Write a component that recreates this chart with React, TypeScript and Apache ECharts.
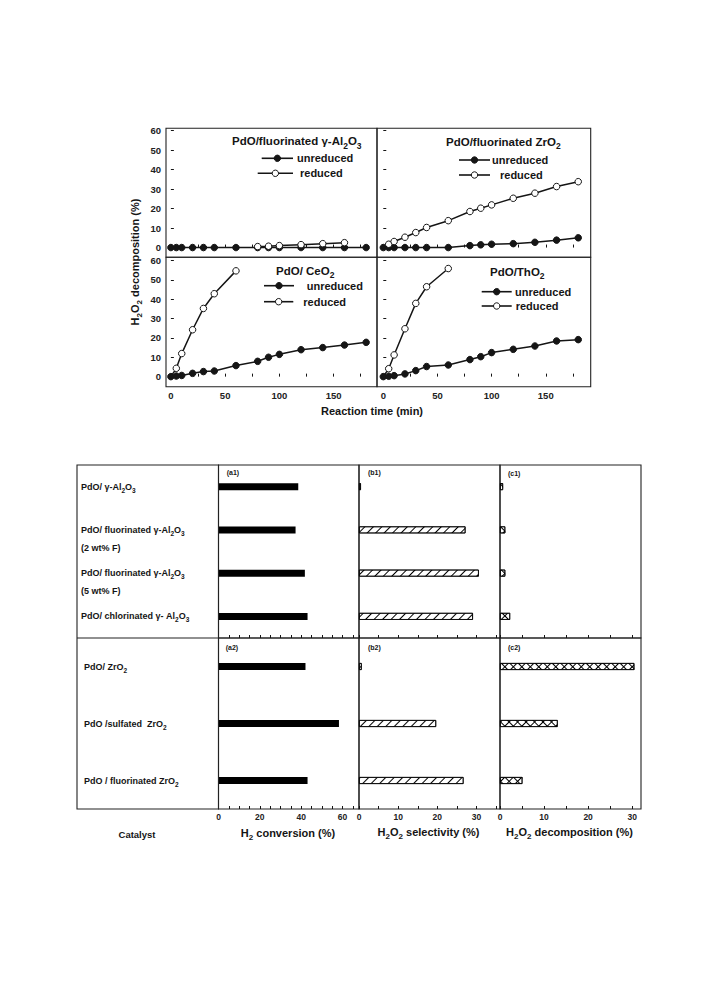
import React, { useEffect, useRef } from "react";
import * as echarts from "echarts";

const FONT = '"Liberation Sans", Arial, Helvetica, sans-serif';
const INK = "#151515";

// ---------- top figure data (H2O2 decomposition vs time) ----------
const TIME = [0, 5, 10, 20, 30, 40, 60, 80, 90, 100, 120, 140, 160, 180];
const AL_UNRED = [0, 0, 0, 0, 0, 0, 0, 0, 0, 0, 0, 0, 0, 0];
const AL_RED_T = [80, 90, 100, 120, 140, 160];
const AL_RED = [0.5, 0.7, 1.0, 1.5, 2.0, 2.5];
const ZR_UNRED = [0, 0, 0, 0, 0, 0, 0, 1.0, 1.4, 1.7, 2.0, 2.7, 3.8, 5.0];
const ZR_RED = [0, 1.7, 3.1, 5.3, 7.7, 10.3, 13.8, 18.5, 20.2, 21.9, 25.3, 27.9, 31.3, 33.8];
const CE_UNRED = [0, 0.3, 0.6, 1.7, 2.6, 2.9, 5.7, 7.9, 10.0, 11.5, 13.9, 15.0, 16.3, 17.7];
const CE_RED_T = [0, 5, 10, 20, 30, 40, 60];
const CE_RED = [0, 4.3, 11.9, 24.2, 35.2, 42.8, 54.6];
const TH_UNRED = [0, 0.2, 0.5, 1.4, 3.1, 5.2, 6.0, 8.8, 10.3, 12.4, 14.1, 15.8, 18.4, 19.1];
const TH_RED_T = [0, 5, 10, 20, 30, 40, 60];
const TH_RED = [0, 4.1, 11.2, 24.7, 37.8, 46.4, 55.8];

const TIME_LABELS = [0, 50, 100, 150];
const TIME_TICKS = [0, 25, 50, 75, 100, 125, 150, 175];
const PCT_LABELS = [0, 10, 20, 30, 40, 50, 60];

// ---------- bottom figure data ----------
const CATS1 = [
  "PdO/ γ-Al2O3",
  "PdO/ fluorinated γ-Al2O3\n(2 wt% F)",
  "PdO/ fluorinated γ-Al2O3\n(5 wt% F)",
  "PdO/ chlorinated γ- Al2O3",
];
const CATS2 = ["PdO/ ZrO2", "PdO /sulfated  ZrO2", "PdO / fluorinated ZrO2"];
const CONV1 = [38.6, 37.3, 41.8, 43.1];
const CONV2 = [42.1, 58.3, 43.1];
const SEL1 = [0.5, 27.2, 30.6, 29.1];
const SEL2 = [0.7, 19.7, 26.7];
const DEC1 = [0.7, 1.2, 1.2, 2.3];
const DEC2 = [30.5, 13.1, 5.1];

const CONV_LABELS = [0, 20, 40, 60];
const CONV_TICKS = [0, 5, 10, 15, 20, 25, 30, 35, 40, 45, 50, 55, 60, 65];
const SEL_LABELS = [0, 10, 20, 30];
const SEL_TICKS = [0, 5, 10, 15, 20, 25, 30, 35];
const DEC_LABELS = [0, 10, 20, 30];
const DEC_TICKS = [0, 5, 10, 15, 20, 25, 30];

// rich-text: digits right after letters become subscripts
function richLine(line: string, base = "t", sub = "s"): string {
  let out = "";
  let buf = "";
  for (let i = 0; i < line.length; i++) {
    const c = line[i];
    const prev = i > 0 ? line[i - 1] : "";
    if (/\d/.test(c) && /[A-Za-z]/.test(prev)) {
      if (buf) out += `{${base}|${buf}}`;
      buf = "";
      out += `{${sub}|${c}}`;
    } else buf += c;
  }
  if (buf) out += `{${base}|${buf}}`;
  return out;
}

function catLabel(v: string): string {
  const lines = v.split("\n");
  if (lines.length > 1) return "{t| }\n" + lines.map((l) => richLine(l)).join("\n");
  return richLine(v);
}

function gText(
  x: number,
  y: number,
  txt: string,
  size: number,
  subSize: number,
  align = "left",
  rotation = 0,
  subs = true
) {
  return {
    type: "text",
    x,
    y,
    rotation,
    z: 50,
    style: {
      text: subs ? richLine(txt) : `{t|${txt}}`,
      align,
      verticalAlign: "middle",
      fill: INK,
      font: `bold ${size}px ${FONT}`,
      rich: {
        t: { font: `bold ${size}px ${FONT}`, fill: INK },
        s: { font: `bold ${subSize}px ${FONT}`, fill: INK, padding: [Math.round(size * 0.75), 0, 0, 0] },
      },
    },
  };
}

function legendEntry(x1: number, x2: number, y: number, filled: boolean, label: string, tx: number) {
  return [
    { type: "line", z: 50, shape: { x1, y1: y, x2, y2: y }, style: { stroke: INK, lineWidth: 1.6 } },
    {
      type: "circle",
      z: 51,
      shape: { cx: (x1 + x2) / 2, cy: y, r: 3.2 },
      style: { fill: filled ? INK : "#fff", stroke: INK, lineWidth: 1 },
    },
    {
      type: "text",
      z: 50,
      x: tx,
      y,
      style: { text: label, align: "left", verticalAlign: "middle", fill: INK, font: `bold 11px ${FONT}` },
    },
  ];
}

function lineSeries(idx: number, times: number[], vals: number[], filled: boolean, hideFirst: boolean) {
  return {
    type: "line",
    xAxisIndex: idx,
    yAxisIndex: idx,
    data: times.map((t, i) => (hideFirst && i === 0 ? { value: [t, vals[i]], symbol: "none" } : [t, vals[i]])),
    symbol: "circle",
    symbolSize: 6.5,
    lineStyle: { color: INK, width: 1.5 },
    itemStyle: { color: filled ? INK : "#fff", borderColor: INK, borderWidth: 1 },
    emphasis: { disabled: true },
    silent: true,
  };
}

function timeAxis(gi: number, showLabel: boolean, min: number, max: number) {
  return {
    type: "value",
    gridIndex: gi,
    min,
    max,
    axisLine: { show: false },
    axisTick: { show: true, inside: true, length: 3, customValues: TIME_TICKS, lineStyle: { color: INK } },
    axisLabel: {
      show: showLabel,
      customValues: TIME_LABELS,
      margin: 4,
      fontSize: 9.5,
      fontWeight: "bold",
      fontFamily: FONT,
      color: "#222",
    },
    splitLine: { show: false },
  };
}

function pctAxis(gi: number, showLabel: boolean, min: number, max: number) {
  return {
    type: "value",
    gridIndex: gi,
    min,
    max,
    axisLine: { show: false },
    axisTick: { show: true, inside: true, length: 3, customValues: PCT_LABELS, lineStyle: { color: INK } },
    axisLabel: {
      show: showLabel,
      customValues: PCT_LABELS,
      margin: 5,
      fontSize: 9.5,
      fontWeight: "bold",
      fontFamily: FONT,
      color: "#222",
    },
    splitLine: { show: false },
  };
}

function valAxis(gi: number, max: number, ticks: number[], labels: number[], showLabel: boolean) {
  return {
    type: "value",
    gridIndex: gi,
    min: 0,
    max,
    axisLine: { show: false },
    axisTick: { show: true, inside: true, length: 3, customValues: ticks, lineStyle: { color: INK } },
    axisLabel: {
      show: showLabel,
      customValues: labels,
      margin: 3,
      fontSize: 8.5,
      fontWeight: "bold",
      fontFamily: FONT,
      color: "#222",
    },
    splitLine: { show: false },
  };
}

function catAxis(gi: number, cats: string[], showLabel: boolean, margin: number) {
  return {
    type: "category",
    gridIndex: gi,
    data: cats,
    inverse: true,
    axisLine: { show: false },
    axisTick: { show: false },
    axisLabel: {
      show: showLabel,
      interval: 0,
      margin,
      align: "left",
      formatter: (v: string) => catLabel(v),
      rich: {
        t: { fontSize: 9, fontWeight: "bold", fontFamily: FONT, color: INK, lineHeight: 18 },
        s: { fontSize: 6.5, fontWeight: "bold", fontFamily: FONT, color: INK, padding: [7, 0, 0, 0] },
      },
    },
    splitLine: { show: false },
  };
}

const SLASH = {
  symbol: "rect",
  symbolSize: 1,
  dashArrayX: [1, 0],
  dashArrayY: [1, 5],
  rotation: -Math.PI / 4,
  color: "#000",
};
const BACKSLASH = { ...SLASH, rotation: Math.PI / 4 };

function hatchBar(idx: number, data: number[], decal: any, fill: string, border: number) {
  return {
    type: "bar",
    xAxisIndex: idx,
    yAxisIndex: idx,
    data,
    barWidth: 7,
    barGap: "-100%",
    silent: true,
    itemStyle: { color: fill, borderColor: "#000", borderWidth: border, decal },
  };
}

export default function App() {
  const ref = useRef<HTMLDivElement>(null);
  useEffect(() => {
    if (!ref.current) return;
    const chart = echarts.init(ref.current, null, { renderer: "svg" });
    const gridBase = { show: true, borderColor: "#222", borderWidth: 1.1, backgroundColor: "transparent", containLabel: false };
    const option: any = {
      animation: false,
      backgroundColor: "#fff",
      textStyle: { fontFamily: FONT },
      grid: [
        { ...gridBase, left: 166, top: 128.3, width: 211, height: 129 },
        { ...gridBase, left: 377, top: 128.3, width: 213.7, height: 129 },
        { ...gridBase, left: 166, top: 257.3, width: 211, height: 129.4 },
        { ...gridBase, left: 377, top: 257.3, width: 213.7, height: 129.4 },
        { ...gridBase, left: 218.5, top: 465, width: 140.5, height: 173 },
        { ...gridBase, left: 359, top: 465, width: 141, height: 173 },
        { ...gridBase, left: 500, top: 465, width: 141, height: 173 },
        { ...gridBase, left: 218.5, top: 638, width: 140.5, height: 171 },
        { ...gridBase, left: 359, top: 638, width: 141, height: 171 },
        { ...gridBase, left: 500, top: 638, width: 141, height: 171 },
      ],
      xAxis: [
        timeAxis(0, false, -4.5, 190),
        timeAxis(1, false, -5.8, 191.5),
        timeAxis(2, true, -4.5, 190),
        timeAxis(3, true, -5.8, 191.5),
        valAxis(4, 68, CONV_TICKS, CONV_LABELS, false),
        valAxis(5, 36, SEL_TICKS, SEL_LABELS, false),
        valAxis(6, 32, DEC_TICKS, DEC_LABELS, false),
        valAxis(7, 68, CONV_TICKS, CONV_LABELS, true),
        valAxis(8, 36, SEL_TICKS, SEL_LABELS, true),
        valAxis(9, 32, DEC_TICKS, DEC_LABELS, true),
      ],
      yAxis: [
        pctAxis(0, true, -5, 61.2),
        pctAxis(1, false, -5, 61.2),
        pctAxis(2, true, -5.2, 61.6),
        pctAxis(3, false, -5.2, 61.6),
        catAxis(4, CATS1, true, 137.5),
        catAxis(5, CATS1, false, 8),
        catAxis(6, CATS1, false, 8),
        catAxis(7, CATS2, true, 134.5),
        catAxis(8, CATS2, false, 8),
        catAxis(9, CATS2, false, 8),
      ],
      series: [
        lineSeries(0, TIME, AL_UNRED, true, false),
        lineSeries(0, AL_RED_T, AL_RED, false, false),
        lineSeries(1, TIME, ZR_UNRED, true, false),
        lineSeries(1, TIME, ZR_RED, false, true),
        lineSeries(2, TIME, CE_UNRED, true, false),
        lineSeries(2, CE_RED_T, CE_RED, false, true),
        lineSeries(3, TIME, TH_UNRED, true, false),
        lineSeries(3, TH_RED_T, TH_RED, false, true),
        { type: "bar", xAxisIndex: 4, yAxisIndex: 4, data: CONV1, barWidth: 7, silent: true, itemStyle: { color: "#000" } },
        { type: "bar", xAxisIndex: 7, yAxisIndex: 7, data: CONV2, barWidth: 7, silent: true, itemStyle: { color: "#000" } },
        hatchBar(5, SEL1, SLASH, "#fff", 0.8),
        hatchBar(8, SEL2, SLASH, "#fff", 0.8),
        hatchBar(6, DEC1, SLASH, "#fff", 0.8),
        hatchBar(6, DEC1, BACKSLASH, "rgba(0,0,0,0)", 0),
        hatchBar(9, DEC2, SLASH, "#fff", 0.8),
        hatchBar(9, DEC2, BACKSLASH, "rgba(0,0,0,0)", 0),
      ],
      graphic: [
        // top figure: panel titles and legends
        gText(232, 141, "PdO/fluorinated γ-Al2O3", 11.5, 8.5),
        ...legendEntry(261.7, 293, 158.3, true, "unreduced", 297),
        ...legendEntry(257.7, 293, 173.3, false, "reduced", 300),
        gText(446, 141.7, "PdO/fluorinated ZrO2", 11.5, 8.5),
        ...legendEntry(459, 490, 160, true, "unreduced", 492),
        ...legendEntry(459, 490, 175, false, "reduced", 500),
        gText(276, 270.7, "PdO/ CeO2", 11.5, 8.5),
        ...legendEntry(264, 294, 285.7, true, "unreduced", 306.7),
        ...legendEntry(264, 293.3, 301.7, false, "reduced", 303.3),
        gText(490, 271.7, "PdO/ThO2", 11.5, 8.5),
        ...legendEntry(481.7, 511.7, 291.7, true, "unreduced", 515),
        ...legendEntry(481.7, 511.7, 306, false, "reduced", 515.7),
        gText(372, 410.7, "Reaction time (min)", 11, 8, "center"),
        gText(135, 262, "H2O2 decomposition (%)", 11, 8, "center", Math.PI / 2),
        // bottom figure: frame of the catalyst column
        {
          type: "rect",
          z: 40,
          shape: { x: 77, y: 465, width: 141.5, height: 344 },
          style: { fill: "none", stroke: "#222", lineWidth: 1.1 },
        },
        { type: "line", z: 40, shape: { x1: 77, y1: 638, x2: 218.5, y2: 638 }, style: { stroke: "#222", lineWidth: 1.1 } },
        gText(226.7, 472, "(a1)", 7, 6, "left", 0, false),
        gText(368, 472, "(b1)", 7, 6, "left", 0, false),
        gText(508, 473, "(c1)", 7, 6, "left", 0, false),
        gText(225.7, 647, "(a2)", 7, 6, "left", 0, false),
        gText(368, 647, "(b2)", 7, 6, "left", 0, false),
        gText(508, 647, "(c2)", 7, 6, "left", 0, false),
        gText(137, 834, "Catalyst", 9.5, 7, "center"),
        gText(288, 833, "H2 conversion (%)", 11, 8, "center"),
        gText(428.5, 832, "H2O2 selectivity (%)", 11, 8, "center"),
        gText(569.5, 832, "H2O2 decomposition (%)", 11, 8, "center"),
      ],
    };
    chart.setOption(option);
    return () => chart.dispose();
  }, []);
  return (
    <div
      ref={ref}
      style={{ position: "absolute", left: 0, top: 0, width: 725, height: 989, background: "#fff" }}
    />
  );
}
